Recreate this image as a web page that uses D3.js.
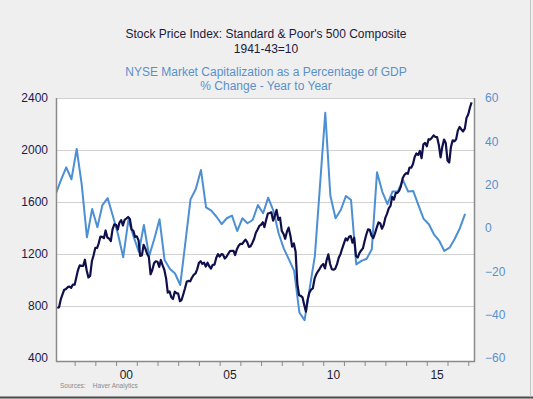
<!DOCTYPE html>
<html>
<head>
<meta charset="utf-8">
<script src="https://cdn.jsdelivr.net/npm/d3@7"></script>
<style>
  html, body { margin: 0; padding: 0; background: #efefef; }
  svg { display: block; font-family: Arial, "Liberation Sans", sans-serif; }
</style>
</head>
<body>
<div id="chart"></div>
<script>
// S&P 500, monthly averages, starting March 1997
const spxStart = [1997, 2]; // year, month index
const spxMonthly = [
  784, 790, 850, 890, 925, 930, 945, 950, 940, 965,
  964, 1023, 1076, 1112, 1109, 1109, 1156, 1075, 1020, 1032, 1144, 1190,
  1248, 1246, 1282, 1334, 1332, 1322, 1381, 1327, 1318, 1300, 1391, 1428,
  1425, 1388, 1442, 1461, 1419, 1462, 1473, 1485, 1469, 1390, 1379, 1331,
  1336, 1305, 1185, 1189, 1271, 1241, 1202, 1178, 1044, 1077, 1129, 1144,
  1140, 1101, 1154, 1112, 1079, 1014, 903, 912, 867, 854, 910, 899,
  895, 837, 846, 890, 936, 988, 993, 990, 1019, 1039, 1050, 1082,
  1132, 1144, 1124, 1133, 1103, 1133, 1106, 1088, 1117, 1118, 1169, 1199,
  1181, 1199, 1195, 1165, 1179, 1202, 1222, 1224, 1225, 1192, 1237, 1263,
  1279, 1277, 1294, 1311, 1292, 1254, 1260, 1287, 1317, 1364, 1389, 1416,
  1425, 1444, 1407, 1463, 1511, 1515, 1521, 1457, 1493, 1539, 1463, 1480,
  1378, 1354, 1317, 1371, 1403, 1341, 1257, 1281, 1217, 969, 883, 878,
  866, 806, 757, 848, 902, 926, 935, 1010, 1045, 1067, 1088, 1110,
  1123, 1089, 1152, 1197, 1125, 1083, 1079, 1087, 1122, 1171, 1199, 1242,
  1282, 1321, 1304, 1332, 1338, 1287, 1325, 1185, 1173, 1207, 1227, 1243,
  1300, 1352, 1389, 1386, 1341, 1323, 1359, 1403, 1443, 1437, 1394, 1422,
  1480, 1512, 1551, 1570, 1640, 1619, 1668, 1670, 1688, 1721, 1783, 1807,
  1822, 1817, 1864, 1864, 1890, 1947, 1973, 1962, 1993, 1937, 2044, 2054,
  2028, 2083, 2080, 2095, 2112, 2100, 2100, 2039, 1944, 2024, 2080, 2054,
  1919, 1904, 2022, 2075, 2066, 2083, 2149, 2177, 2158, 2143, 2165, 2247,
  2275, 2329, 2366
];

// NYSE market cap as % of GDP, % change y/y, quarterly from 1997 Q1
const capStart = [1997, 0]; // year, quarter index
const capChange = [
  16, 22.2, 28, 22.5, 36.5, 20, -4.3, 8.8,
  0.3, 10.6, 13.8, 5.5, -3, -13.5, 3.7, -4,
  -11, 1.4, -13, -5, 4, -14.8, -18.8, -21,
  -26.3, -7, 13.2, 17.9, 26.8, 9.5, 8, 5.2,
  1.8, 4.5, 5.7, -1.4, 4.5, 2.2, 3.7, 10.6,
  6.8, 14, 8, -2.4, -9.5, -14.5, -19.8, -39,
  -42.5, -28, -13, 20, 53.2, 15, 4.5, 8.3,
  14.8, 12.9, -16.8, -15.2, -14.2, -9.8, 25.7, 16.8,
  11, 16.8, 16.8, 22.2, 16.8, 17.1, 10.6, 4.2,
  1.7, -2.9, -5.8, -10.6, -9.1, -5.1, -0.1, 6.5
];

const leftTicks = [400, 800, 1200, 1600, 2000, 2400];
const rightTicks = [-60, -40, -20, 0, 20, 40, 60];
const yearLabels = ["00", "05", "10", "15"];
const labelYears = [2000, 2005, 2010, 2015];

const titles = [
  "Stock Price Index: Standard & Poor's 500 Composite",
  "1941-43=10"
];
const subtitles = [
  "NYSE Market Capitalization as a Percentage of GDP",
  "% Change - Year to Year"
];

const W = 533, H = 399;
const plot = {left: 57, right: 474, top: 98, bottom: 358, frameBottom: 361};

const navy = "#0f0f4b", blue = "#4c8fd3", lightBlue = "#5b8fcb";

const spx = spxMonthly.map((v, i) => ({date: new Date(spxStart[0], spxStart[1] + i, 1), value: v}));
const cap = capChange.map((v, i) => ({date: new Date(capStart[0], (capStart[1] + i) * 3 + 1, 6), value: v}));

const svg = d3.select("#chart").append("svg")
  .attr("width", W)
  .attr("height", H);

svg.append("rect").attr("width", W).attr("height", H).attr("fill", "#efefef");
svg.append("line").attr("x1", 0).attr("x2", W).attr("y1", 397.5).attr("y2", 397.5)
  .attr("stroke", "#4a4a4a").attr("stroke-width", 2);
svg.append("line").attr("x1", 530.5).attr("x2", 530.5).attr("y1", 0).attr("y2", 397)
  .attr("stroke", "#c4c4c4").attr("stroke-width", 1);

const x = d3.scaleTime()
  .domain([new Date(1997, 1, 24), new Date(2017, 3, 12)])
  .range([plot.left, plot.right]);
const yL = d3.scaleLinear().domain([400, 2400]).range([plot.bottom, plot.top]);
const yR = d3.scaleLinear().domain([-60, 60]).range([plot.bottom, plot.top]);

// plot background
svg.append("rect")
  .attr("x", plot.left).attr("y", plot.top)
  .attr("width", plot.right - plot.left).attr("height", plot.frameBottom - plot.top)
  .attr("fill", "#fff");

// gridlines
svg.append("g").selectAll("line")
  .data(leftTicks.filter(d => d > 400))
  .join("line")
    .attr("x1", plot.left).attr("x2", plot.right)
    .attr("y1", d => Math.round(yL(d)) + 0.5).attr("y2", d => Math.round(yL(d)) + 0.5)
    .attr("stroke", "#d2d2d2");

// lines
const clip = svg.append("clipPath").attr("id", "clip").append("rect")
  .attr("x", plot.left).attr("y", plot.top - 3)
  .attr("width", plot.right - plot.left).attr("height", plot.frameBottom - plot.top + 3);

svg.append("path")
  .datum(cap)
  .attr("clip-path", "url(#clip)")
  .attr("fill", "none")
  .attr("stroke", blue)
  .attr("stroke-width", 2)
  .attr("stroke-linejoin", "round")
  .attr("d", d3.line().x(d => x(d.date)).y(d => yR(d.value)));

svg.append("path")
  .datum(spx)
  .attr("clip-path", "url(#clip)")
  .attr("fill", "none")
  .attr("stroke", navy)
  .attr("stroke-width", 2.2)
  .attr("stroke-linejoin", "round")
  .attr("d", d3.line().x(d => x(d.date)).y(d => yL(d.value)));

// frame
svg.append("line").attr("x1", plot.left - 0.5).attr("x2", plot.left - 0.5)
  .attr("y1", plot.top).attr("y2", plot.frameBottom + 1).attr("stroke", "#8a8a8a").attr("stroke-width", 1.5);
svg.append("line").attr("x1", plot.right + 0.5).attr("x2", plot.right + 0.5)
  .attr("y1", plot.top).attr("y2", plot.frameBottom + 1).attr("stroke", "#8a8a8a").attr("stroke-width", 1.5);
svg.append("line").attr("x1", plot.left - 1).attr("x2", plot.right + 1)
  .attr("y1", plot.frameBottom + 0.5).attr("y2", plot.frameBottom + 0.5).attr("stroke", "#8a8a8a").attr("stroke-width", 1.5);

// x axis ticks
const xAxis = d3.axisBottom(x)
  .tickValues(d3.range(1998, 2018).map(y => new Date(y, 0, 1)))
  .tickSize(4)
  .tickFormat("");
const gx = svg.append("g").attr("transform", `translate(0,${plot.frameBottom + 1})`).call(xAxis);
gx.select(".domain").remove();
gx.selectAll(".tick line").attr("stroke", "#8a8a8a");

svg.append("g").selectAll("text")
  .data(labelYears)
  .join("text")
    .attr("x", (d, i) => x(new Date(d, 6, 1)))
    .attr("y", 379)
    .attr("text-anchor", "middle")
    .attr("font-size", "12px")
    .attr("fill", "#1c1c2c")
    .text((d, i) => yearLabels[i]);

// left axis labels
const gl = svg.append("g").attr("transform", `translate(${plot.left - 6},0)`)
  .call(d3.axisLeft(yL).tickValues(leftTicks).tickSize(0).tickFormat(d3.format("d")));
gl.select(".domain").remove();
gl.selectAll("text").attr("font-size", "12px").attr("fill", "#1a1a50")
  .attr("font-family", "Arial, 'Liberation Sans', sans-serif");

// right axis labels
const gr = svg.append("g").attr("transform", `translate(${plot.right + 8},0)`)
  .call(d3.axisRight(yR).tickValues(rightTicks).tickSize(0).tickFormat(d3.format("d")));
gr.select(".domain").remove();
gr.selectAll("text").attr("font-size", "12px").attr("fill", lightBlue)
  .attr("font-family", "Arial, 'Liberation Sans', sans-serif");

// titles
svg.append("g").selectAll("text")
  .data(titles)
  .join("text")
    .attr("x", 266)
    .attr("y", (d, i) => 38 + i * 15)
    .attr("text-anchor", "middle")
    .attr("font-size", "12px")
    .attr("fill", "#1a1a3c")
    .text(d => d);

svg.append("g").selectAll("text")
  .data(subtitles)
  .join("text")
    .attr("x", 266)
    .attr("y", (d, i) => 76 + i * 14)
    .attr("text-anchor", "middle")
    .attr("font-size", "12px")
    .attr("fill", lightBlue)
    .text(d => d);

svg.append("text")
  .attr("x", 60).attr("y", 388)
  .attr("font-size", "6.5px")
  .attr("fill", "#8a8a8a")
  .attr("xml:space", "preserve")
  .text("Sources:    Haver Analytics");
</script>
</body>
</html>
